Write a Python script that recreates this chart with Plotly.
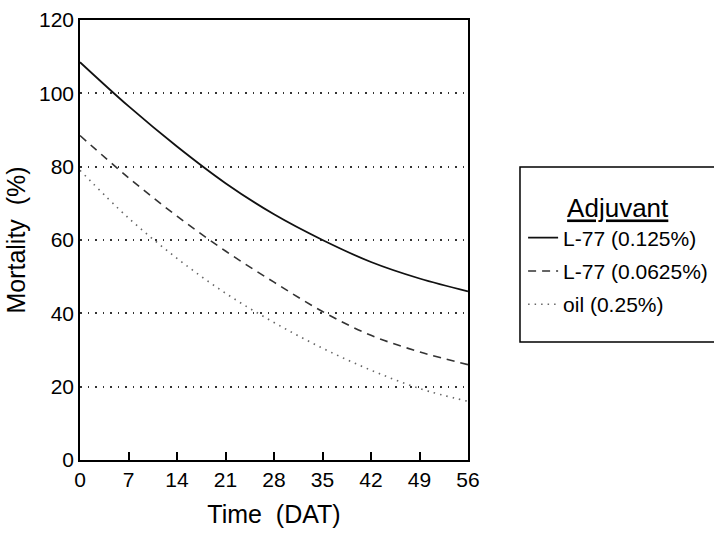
import plotly.graph_objects as go

days = [0, 7, 14, 21, 28, 35, 42, 49, 56]
l77_0125 = [108.5, 96.5, 85.5, 75.5, 67, 60, 54, 49.5, 46]
l77_00625 = [88.5, 77, 66.5, 57, 48.5, 40.5, 34, 29.5, 26]
oil_025 = [79, 66, 55, 45.5, 37.5, 30.5, 24.5, 19.5, 16]

names = ["L-77 (0.125%)", "L-77 (0.0625%)", "oil (0.25%)"]
series = [l77_0125, l77_00625, oil_025]
styles = [dict(color="#111111", width=1.8, dash="solid"),
          dict(color="#333333", width=1.6, dash="8px,6px"),
          dict(color="#666666", width=1.6, dash="1.5px,5px")]

fig = go.Figure()
for i, (n, s, st) in enumerate(zip(names, series, styles)):
    fig.add_trace(go.Scatter(x=days, y=s, mode="lines", name=n, line=dict(shape="spline", **st),
                             legendgroup=str(i)))

# legend frame (extends off the right edge like the reference)
fig.add_shape(type="rect", xref="paper", yref="paper",
              x0=1.134, x1=1.75, y0=0.268, y1=0.666,
              line=dict(color="black", width=1.5), fillcolor="rgba(0,0,0,0)", layer="above")

font = "Liberation Sans, Arial, sans-serif"
fig.update_layout(
    width=714, height=534,
    margin=dict(l=80, r=246, t=20, b=74, autoexpand=False),
    paper_bgcolor="white", plot_bgcolor="white",
    font=dict(family=font, color="black", size=21),
    showlegend=True,
    legend=dict(
        x=1.142, y=0.628, xanchor="left", yanchor="top",
        borderwidth=0, bgcolor="rgba(0,0,0,0)",
        title=dict(text="<u>Adjuvant</u>", side="top center", font=dict(size=26)),
        font=dict(size=21), traceorder="grouped", tracegroupgap=3,
        itemwidth=30,
    ),
    xaxis=dict(
        range=[0, 56], tickvals=days, ticktext=[str(d) for d in days],
        ticks="inside", ticklen=8, tickwidth=1.5, tickcolor="black",
        showline=True, linecolor="black", linewidth=1.5, mirror=True,
        showgrid=False, zeroline=False,
        title=dict(text="Time  (DAT)", font=dict(size=25), standoff=16),
        tickfont=dict(size=21),
    ),
    yaxis=dict(
        range=[0, 120], tickvals=[0, 20, 40, 60, 80, 100, 120],
        ticks="", showline=True, linecolor="black", linewidth=1.5, mirror=True,
        showgrid=True, gridcolor="#333333", griddash="1.5px,6px", gridwidth=1.5,
        zeroline=False,
        title=dict(text="Mortality  (%)", font=dict(size=25), standoff=6),
        tickfont=dict(size=21),
    ),
)

fig.write_html("out.html")
